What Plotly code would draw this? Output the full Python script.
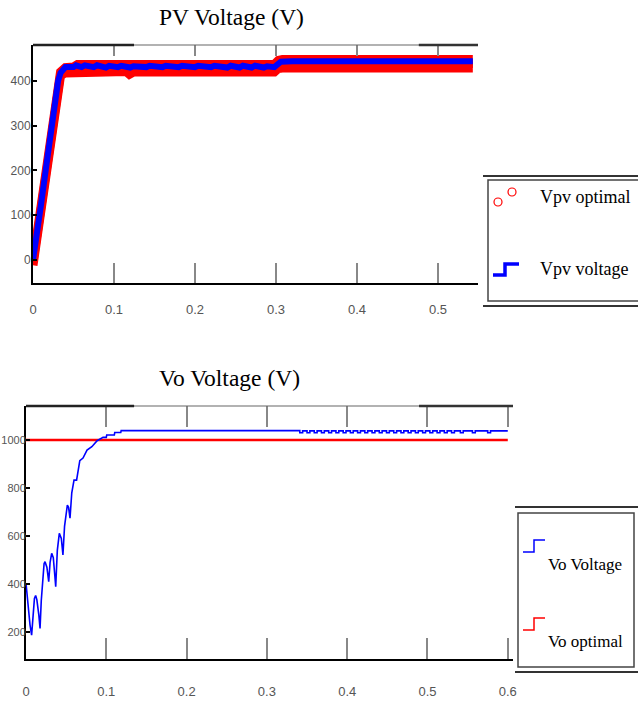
import plotly.graph_objects as go

W, H = 638, 701

# ---------------- data: PV voltage (top chart) ----------------
t_pv = [0.000, 0.004, 0.010, 0.016, 0.022, 0.028, 0.031, 0.034, 0.037, 0.040,
        0.050, 0.053, 0.060, 0.064, 0.075, 0.079, 0.090, 0.094, 0.105, 0.109,
        0.120, 0.124, 0.140, 0.144, 0.160, 0.164, 0.180, 0.184, 0.200, 0.204,
        0.220, 0.224, 0.240, 0.244, 0.255, 0.259, 0.270, 0.274, 0.285, 0.289,
        0.298, 0.302, 0.306, 0.320, 0.360, 0.400, 0.450, 0.500, 0.543]
vpv_voltage = [0, 45, 125, 205, 285, 362, 400, 418, 427, 431,
               431, 435, 431, 435, 431, 435, 430, 434, 431, 434,
               430, 433, 431, 434, 431, 434, 431, 434, 431, 434,
               431, 434, 430, 434, 430, 434, 430, 434, 430, 433,
               431, 438, 443, 444, 444, 444, 444, 444, 444]

t_opt = [0.000, 0.004, 0.010, 0.016, 0.022, 0.028, 0.031, 0.034, 0.040, 0.050,
         0.055, 0.115, 0.119, 0.124, 0.298, 0.303, 0.308, 0.543]
vpv_opt_hi = [-4, 48, 128, 208, 288, 366, 400, 420, 430, 431,
              437, 437, 437, 437, 437, 446, 448, 448]
vpv_opt_lo = [-12, 40, 120, 200, 280, 357, 392, 412, 418, 418,
              421, 421, 415, 420, 420, 428, 429, 429]

# ---------------- data: Vo voltage (bottom chart) ----------------
t_vo = [0.000, 0.002, 0.005, 0.007, 0.009, 0.0105, 0.012, 0.0135, 0.016, 0.0175,
        0.019, 0.021, 0.0225, 0.0237, 0.026, 0.0283, 0.030, 0.032, 0.034, 0.036,
        0.037, 0.039, 0.0415, 0.044, 0.046, 0.048, 0.0515, 0.053, 0.0548, 0.057,
        0.0598, 0.063, 0.065, 0.067, 0.071, 0.076, 0.082, 0.0886, 0.096, 0.1000,
        0.1005, 0.110, 0.1105, 0.118, 0.1185, 0.341]
vo_voltage = [403, 330, 230, 187, 290, 340, 352, 335, 270, 215,
              330, 430, 485, 493, 470, 410, 490, 528, 510, 430,
              389, 540, 611, 590, 521, 640, 729, 720, 674, 780,
              833, 833, 880, 914, 925, 958, 972, 997, 1011, 1011,
              1021, 1021, 1031, 1031, 1039, 1039]
# late ripple: start times of the short dips, and the two ripple levels
vo_dip_starts = [0.341, 0.350, 0.359, 0.368, 0.377, 0.386, 0.395, 0.404, 0.413,
                 0.422, 0.431, 0.440, 0.449, 0.458, 0.467, 0.476, 0.485, 0.494,
                 0.503, 0.512, 0.521, 0.530, 0.541, 0.556, 0.575]
vo_ripple_hi, vo_ripple_lo = 1038, 1030
vo_end = 0.600
t_vo_opt = [0.000, 0.600]
vo_optimal = [1000, 1000]

DIP = 0.0035
tv, vv = list(t_vo), list(vo_voltage)
for d in vo_dip_starts:
    tv += [d, d, d + DIP, d + DIP]
    vv += [vo_ripple_hi, vo_ripple_lo, vo_ripple_lo, vo_ripple_hi]
tv.append(vo_end)
vv.append(vo_ripple_hi)

top_ticks = [0, 0.1, 0.2, 0.3, 0.4, 0.5]
top_ticktext = ["0", "0.1", "0.2", "0.3", "0.4", "0.5"]
top_yticks = [0, 100, 200, 300, 400]
bot_ticks = [0, 0.1, 0.2, 0.3, 0.4, 0.5, 0.6]
bot_ticktext = ["0", "0.1", "0.2", "0.3", "0.4", "0.5", "0.6"]
bot_yticks = [200, 400, 600, 800, 1000]

RED = "#ff0000"
BLUE = "#0000ff"

fig = go.Figure()
# top chart: red optimal band
fig.add_trace(go.Scatter(x=t_opt, y=vpv_opt_lo, mode="lines", name="Vpv optimal",
                         line=dict(color=RED, width=9), xaxis="x", yaxis="y",
                         showlegend=False, hoverinfo="skip"))
fig.add_trace(go.Scatter(x=t_opt, y=vpv_opt_hi, mode="lines", name="Vpv optimal",
                         line=dict(color=RED, width=9), fill="tonexty",
                         fillcolor=RED, xaxis="x", yaxis="y", showlegend=False))
fig.add_trace(go.Scatter(x=t_pv, y=vpv_voltage, mode="lines", name="Vpv voltage",
                         line=dict(color=BLUE, width=6), xaxis="x", yaxis="y",
                         showlegend=False))
# bottom chart
fig.add_trace(go.Scatter(x=t_vo_opt, y=vo_optimal, mode="lines", name="Vo optimal",
                         line=dict(color=RED, width=2.5), xaxis="x2", yaxis="y2",
                         showlegend=False))
fig.add_trace(go.Scatter(x=tv, y=vv, mode="lines", name="Vo Voltage",
                         line=dict(color=BLUE, width=1.6), xaxis="x2", yaxis="y2",
                         showlegend=False))
# invisible helpers so that the top tick axes get drawn
fig.add_trace(go.Scatter(x=[0], y=[0], mode="markers", marker=dict(opacity=0),
                         xaxis="x3", yaxis="y", showlegend=False, hoverinfo="skip"))
fig.add_trace(go.Scatter(x=[0], y=[200], mode="markers", marker=dict(opacity=0),
                         xaxis="x4", yaxis="y2", showlegend=False, hoverinfo="skip"))


def py(p):
    return 1 - p / H


def px(p):
    return p / W


FAM = "Liberation Sans Narrow, Liberation Sans, Arial, sans-serif"
xfont = dict(family=FAM, size=13, color="#555555")
yfont_top = dict(family=FAM, size=12, color="#555555")
yfont_bot = dict(family=FAM, size=11, color="#555555")

common_x = dict(showgrid=False, zeroline=False, ticks="inside", tickcolor="#888888",
                tickwidth=1.5, showline=True, linecolor="black", linewidth=2,
                tickfont=xfont, mirror=False, automargin=False)
common_y = dict(showgrid=False, zeroline=False, ticks="inside", tickcolor="black",
                tickwidth=2, ticklen=4, showline=True, linecolor="black", linewidth=2,
                automargin=False)
top_x = dict(ticks="inside", tickcolor="#888888", tickwidth=1.5,
             showticklabels=False, showline=False, showgrid=False, zeroline=False,
             automargin=False, side="top")

fig.update_layout(
    width=W, height=H, margin=dict(l=0, r=0, t=0, b=0, autoexpand=False),
    paper_bgcolor="white", plot_bgcolor="white", showlegend=False,
    xaxis=dict(domain=[px(33), px(478)], anchor="y", range=[0, 0.5494],
               tickvals=top_ticks, ticktext=top_ticktext, ticklen=20,
               ticklabelstandoff=13, **common_x),
    yaxis=dict(domain=[py(283), py(45)], anchor="x", range=[-51.4, 480.4],
               tickvals=top_yticks, tickfont=yfont_top, **common_y),
    xaxis3=dict(overlaying="x", anchor="y", range=[0, 0.5494],
                tickvals=top_ticks, ticklen=11, **top_x),
    xaxis2=dict(domain=[px(26), px(513)], anchor="y2", range=[0, 0.6065],
                tickvals=bot_ticks, ticktext=bot_ticktext, ticklen=21,
                ticklabelstandoff=19, **common_x),
    yaxis2=dict(domain=[py(659), py(406)], anchor="x2", range=[87.5, 1141.7],
                tickvals=bot_yticks, tickfont=yfont_bot, **common_y),
    xaxis4=dict(overlaying="x2", anchor="y2", range=[0, 0.6065],
                tickvals=bot_ticks, ticklen=21, **top_x),
)
try:
    fig.update_layout(yaxis_ticklabelstandoff=-2, yaxis2_ticklabelstandoff=-4)
except ValueError:
    pass

shapes = []
# top frame lines (thin gray + thick dark segments)
for xa, ya, a, b in [("x", "y", 0.227, 0.867), ("x2", "y2", 0.222, 0.807)]:
    shapes.append(dict(type="line", xref=f"{xa} domain", yref=f"{ya} domain",
                       x0=0, x1=1, y0=1, y1=1, line=dict(color="#666666", width=1.2)))
    shapes.append(dict(type="line", xref=f"{xa} domain", yref=f"{ya} domain",
                       x0=0, x1=a, y0=1, y1=1, line=dict(color="#222222", width=2.5)))
    shapes.append(dict(type="line", xref=f"{xa} domain", yref=f"{ya} domain",
                       x0=b, x1=1, y0=1, y1=1, line=dict(color="#333333", width=2.5)))


def hline(x0, x1, y, w=2, c="#333333"):
    shapes.append(dict(type="line", xref="paper", yref="paper", x0=px(x0), x1=px(x1),
                       y0=py(y), y1=py(y), line=dict(color=c, width=w)))


# top legend
hline(483, 640, 176)
hline(483, 640, 306)
shapes.append(dict(type="rect", xref="paper", yref="paper", x0=px(488), x1=px(642),
                   y0=py(301), y1=py(180), line=dict(color="#444444", width=1.5)))
for cx, cy in [(498, 202), (512, 192)]:
    shapes.append(dict(type="circle", xref="paper", yref="paper", x0=px(cx - 4),
                       x1=px(cx + 4), y0=py(cy + 4), y1=py(cy - 4),
                       line=dict(color=RED, width=1.2)))
shapes.append(dict(type="path", xref="paper", yref="paper",
                   path=f"M {px(493)} {py(275)} L {px(505)} {py(275)} L {px(505)} {py(264)} L {px(519)} {py(264)}",
                   line=dict(color=BLUE, width=3.5)))

# bottom legend
hline(515, 640, 507)
hline(515, 640, 672)
shapes.append(dict(type="rect", xref="paper", yref="paper", x0=px(518), x1=px(634),
                   y0=py(667), y1=py(513), line=dict(color="#444444", width=1.5)))
for col, yl, yh in [(BLUE, 552, 540), (RED, 630, 618)]:
    shapes.append(dict(type="path", xref="paper", yref="paper",
                       path=f"M {px(523)} {py(yl)} L {px(534)} {py(yl)} L {px(534)} {py(yh)} L {px(545)} {py(yh)}",
                       line=dict(color=col, width=1.5)))

serif = "Liberation Serif, Times New Roman, serif"
annotations = [
    dict(text="PV Voltage (V)", x=px(231), y=py(17), xref="paper", yref="paper",
         showarrow=False, font=dict(family=serif, size=23.5, color="black"),
         xanchor="center", yanchor="middle"),
    dict(text="Vo Voltage (V)", x=px(229), y=py(378), xref="paper", yref="paper",
         showarrow=False, font=dict(family=serif, size=23.5, color="black"),
         xanchor="center", yanchor="middle"),
    dict(text="Vpv optimal", x=px(538), y=py(197), xref="paper", yref="paper",
         showarrow=False, font=dict(family=serif, size=18, color="black"),
         xanchor="left", yanchor="middle"),
    dict(text="Vpv voltage", x=px(538), y=py(269), xref="paper", yref="paper",
         showarrow=False, font=dict(family=serif, size=18, color="black"),
         xanchor="left", yanchor="middle"),
    dict(text="Vo Voltage", x=px(546), y=py(564), xref="paper", yref="paper",
         showarrow=False, font=dict(family=serif, size=17, color="black"),
         xanchor="left", yanchor="middle"),
    dict(text="Vo optimal", x=px(546), y=py(641), xref="paper", yref="paper",
         showarrow=False, font=dict(family=serif, size=17, color="black"),
         xanchor="left", yanchor="middle"),
]
fig.update_layout(shapes=shapes, annotations=annotations)

fig.write_html("out.html")
